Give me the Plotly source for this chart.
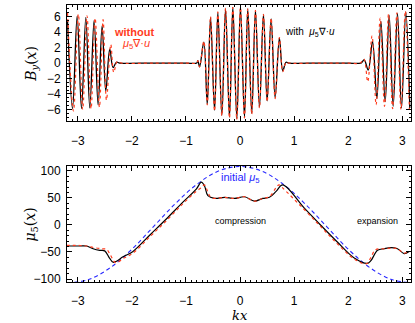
import plotly.graph_objects as go
from plotly.subplots import make_subplots

# ---- top panel: B_y(x), extrema ----
by_with_x = [-3.19, -3.098, -3.012, -2.932, -2.852, -2.779, -2.699, -2.625, -2.551, -2.483,
             -2.410, -2.348, -2.286, -2.225, -1.6, -1.0, -0.80,
             -0.78, -0.749, -0.670, -0.607, -0.546, -0.472, -0.411, -0.337, -0.269, -0.196,
             -0.134, -0.060, 0.007, 0.081, 0.142, 0.216, 0.284, 0.358, 0.432, 0.500,
             0.574, 0.648, 0.727, 0.789, 0.850, 0.90, 1.5, 2.0, 2.234,
             2.295, 2.369, 2.449, 2.529, 2.603, 2.683, 2.756, 2.830, 2.910, 2.984, 3.064, 3.138]
by_with_y = [5.5, -5.9, 6.1, -5.9, 5.9, -5.8, 5.5, -5.4, 4.8, -3.6,
             1.8, -0.6, 0.1, 0.0, 0.0, 0.0, 0.0,
             0.3, -0.5, 2.7, -5.3, 5.9, -6.1, 6.5, -6.75, 7.0, -7.0,
             7.2, -7.2, 7.2, -7.0, 7.0, -6.5, 6.8, -5.7, 6.3, -4.9,
             5.7, -4.5, 3.2, -1.0, 0.1, 0.0, 0.0, 0.0, 0.0,
             0.4, -0.9, 2.8, -4.6, 5.4, -5.0, 6.2, -5.6, 6.4, -5.8, 6.6, -5.8]

by_without_x = [-3.19, -3.08, -2.99, -2.91, -2.83, -2.755, -2.68, -2.60, -2.533, -2.47,
                -2.39, -2.336, -2.27, -2.20, -1.6, -1.0, -0.80,
                -0.78, -0.749, -0.670, -0.607, -0.546, -0.472, -0.411, -0.337, -0.269, -0.196,
                -0.134, -0.060, 0.007, 0.081, 0.142, 0.216, 0.284, 0.358, 0.432, 0.500,
                0.574, 0.648, 0.727, 0.789, 0.850, 0.90, 1.5, 2.0, 2.22,
                2.29, 2.36, 2.44, 2.515, 2.59, 2.67, 2.745, 2.82, 2.90, 2.975, 3.055, 3.13]
by_without_y = [6.5, -6.2, 6.3, -6.0, 6.1, -5.9, 5.8, -5.7, 5.6, -4.8,
                2.4, -1.2, 0.2, 0.0, 0.0, 0.0, 0.0,
                0.3, -0.5, 2.8, -5.4, 6.0, -6.2, 6.6, -6.8, 7.1, -7.1,
                7.2, -7.3, 7.2, -7.1, 7.0, -6.6, 6.8, -5.8, 6.3, -5.0,
                5.8, -4.6, 3.3, -1.1, 0.1, 0.0, 0.0, 0.0, 0.0,
                0.5, -2.4, 3.5, -5.4, 5.8, -5.6, 6.3, -5.9, 6.5, -6.0, 6.7, -6.0]

# ---- bottom panel: mu_5(x) ----
mu_with_x = [-3.21, -2.96, -2.84, -2.717, -2.594, -2.502, -2.41, -2.349, -2.286, -2.164,
             -1.98, -1.672, -1.364, -1.057, -0.81, -0.718, -0.657, -0.596, -0.472, -0.288,
             -0.103, 0.081, 0.266, 0.419, 0.542, 0.666, 0.788, 1.188, 1.496, 1.803,
             2.111, 2.356, 2.419, 2.541, 2.664, 2.788, 2.910, 3.033, 3.125]
mu_with_y = [-39, -39, -39, -44, -47, -48, -62, -69, -67, -59,
             -49, -19, 11, 42, 66, 79, 72, 54, 49, 51,
             49, 52, 44, 49, 51, 62, 74, 31, -1, -32,
             -61, -71, -66, -47, -44, -42, -44, -53, -49]

mu_without_x = [-3.21, -2.96, -2.84, -2.70, -2.56, -2.47, -2.40, -2.30, -2.16, -1.98,
                -1.67, -1.36, -1.06, -0.81, -0.70, -0.66, -0.60, -0.55, -0.472, -0.288,
                -0.103, 0.081, 0.266, 0.419, 0.542, 0.66, 0.72, 0.79, 1.19, 1.50,
                1.80, 2.11, 2.33, 2.42, 2.50, 2.66, 2.79, 2.91, 3.03, 3.125]
mu_without_y = [-38, -38, -39, -42, -44, -45, -55, -70, -62, -52,
                -22, 8, 39, 62, 70, 74, 62, 52, 49, 51,
                49, 52, 44, 49, 52, 68, 74, 68, 28, -4,
                -35, -63, -72, -60, -46, -44, -43, -44, -52, -49]

mu_init_x = [-3.2, -2.8, -2.4, -2.0, -1.6, -1.2, -0.8, -0.4, 0.0, 0.4, 0.8, 1.2, 1.6, 2.0, 2.4, 2.8, 3.2]
mu_init_y = [-107, -101, -79, -45, -3, 39, 75, 99.5, 108, 99.5, 75, 39, -3, -45, -79, -101, -107]

RED = "rgb(255,60,30)"
BLUE = "rgb(40,40,255)"
FONT = "Liberation Sans, Arial, sans-serif"
MATH = "DejaVu Serif, serif"

fig = make_subplots(rows=2, cols=1, vertical_spacing=0.16)

fig.add_trace(go.Scatter(x=by_with_x, y=by_with_y, mode="lines", line=dict(color="black", width=1.3, shape="spline")), 1, 1)
fig.add_trace(go.Scatter(x=by_without_x, y=by_without_y, mode="lines", line=dict(color=RED, width=1.2, dash="dot", shape="spline")), 1, 1)

fig.add_trace(go.Scatter(x=mu_init_x, y=mu_init_y, mode="lines", line=dict(color=BLUE, width=1.1, dash="4px,3px", shape="spline")), 2, 1)
fig.add_trace(go.Scatter(x=mu_with_x, y=mu_with_y, mode="lines", line=dict(color="black", width=1.2, shape="spline")), 2, 1)
fig.add_trace(go.Scatter(x=mu_without_x, y=mu_without_y, mode="lines", line=dict(color=RED, width=1.2, dash="dot", shape="spline")), 2, 1)

axis_common = dict(showgrid=False, zeroline=False, showline=True, linecolor="black", linewidth=1,
                   mirror="allticks", ticks="inside", tickcolor="black", ticklen=5, tickwidth=1,
                   tickfont=dict(family=FONT, size=12, color="black"))

for r, off in ((1, 9), (2, 8)):
    fig.update_xaxes(range=[-3.2, 3.16], dtick=1, tick0=0,
                     minor=dict(ticks="inside", ticklen=2, dtick=0.1, tickcolor="black"),
                     ticklabelstandoff=off, row=r, col=1, **axis_common)

fig.update_yaxes(range=[-7.5, 7.5], dtick=2, tick0=0,
                 minor=dict(ticks="inside", ticklen=2, dtick=0.5, tickcolor="black"),
                 ticklabelstandoff=3, row=1, col=1, **axis_common)
fig.update_yaxes(range=[-105.5, 109], dtick=50, tick0=0,
                 minor=dict(ticks="inside", ticklen=2, dtick=10, tickcolor="black"),
                 ticklabelstandoff=3, row=2, col=1, **axis_common)

# plot area in pixels: left 67, right 412, top 3, bottom 282
pw, ph = 415 - 67 - 3, 323 - 3 - 41

fig.update_layout(
    width=415, height=323,
    margin=dict(l=67, r=3, t=3, b=41),
    plot_bgcolor="white", paper_bgcolor="white",
    showlegend=False,
    yaxis=dict(domain=[0.581, 1.0]),
    yaxis2=dict(domain=[0.0, 0.419]),
    annotations=[
        dict(text="<b>without</b>", x=-1.97, y=4.0, xref="x", yref="y", showarrow=False,
             font=dict(family=FONT, size=11, color=RED)),
        dict(text="<i>μ</i><sub>5</sub>∇·<i>u</i>", x=-1.93, y=2.5, xref="x", yref="y", showarrow=False,
             font=dict(family=FONT, size=11, color=RED)),
        dict(text="with  <i>μ</i><sub>5</sub>∇·<i>u</i>", x=1.29, y=4.0, xref="x", yref="y", showarrow=False,
             font=dict(family=FONT, size=10, color="black")),
        dict(text="initial <i>μ</i><sub>5</sub>", x=0.0, y=86, xref="x2", yref="y2", showarrow=False,
             font=dict(family=FONT, size=11, color=BLUE)),
        dict(text="compression", x=0.0, y=8, xref="x2", yref="y2", showarrow=False,
             font=dict(family=FONT, size=9, color="black")),
        dict(text="expansion", x=2.54, y=8, xref="x2", yref="y2", showarrow=False,
             font=dict(family=FONT, size=9, color="black")),
        dict(text="<i>B<sub>y</sub></i>(<i>x</i>)", x=(28 - 67) / pw, y=(282 - 62) / ph,
             xref="paper", yref="paper", xanchor="center", yanchor="middle", xshift=3,
             showarrow=False, textangle=-90, font=dict(family=MATH, size=14, color="black")),
        dict(text="<i>μ</i><sub>5</sub>(<i>x</i>)", x=(28 - 67) / pw, y=(282 - 224) / ph,
             xref="paper", yref="paper", xanchor="center", yanchor="middle", xshift=3,
             showarrow=False, textangle=-90, font=dict(family=MATH, size=14, color="black")),
        dict(text="<i>kx</i>", x=0.0, y=(282 - 316) / ph, xref="x2", yref="paper", yanchor="middle",
             showarrow=False, font=dict(family=MATH, size=13, color="black")),
    ],
)

fig.write_html("out.html", config={"displayModeBar": False},
               post_script="document.body.style.margin='0';")
